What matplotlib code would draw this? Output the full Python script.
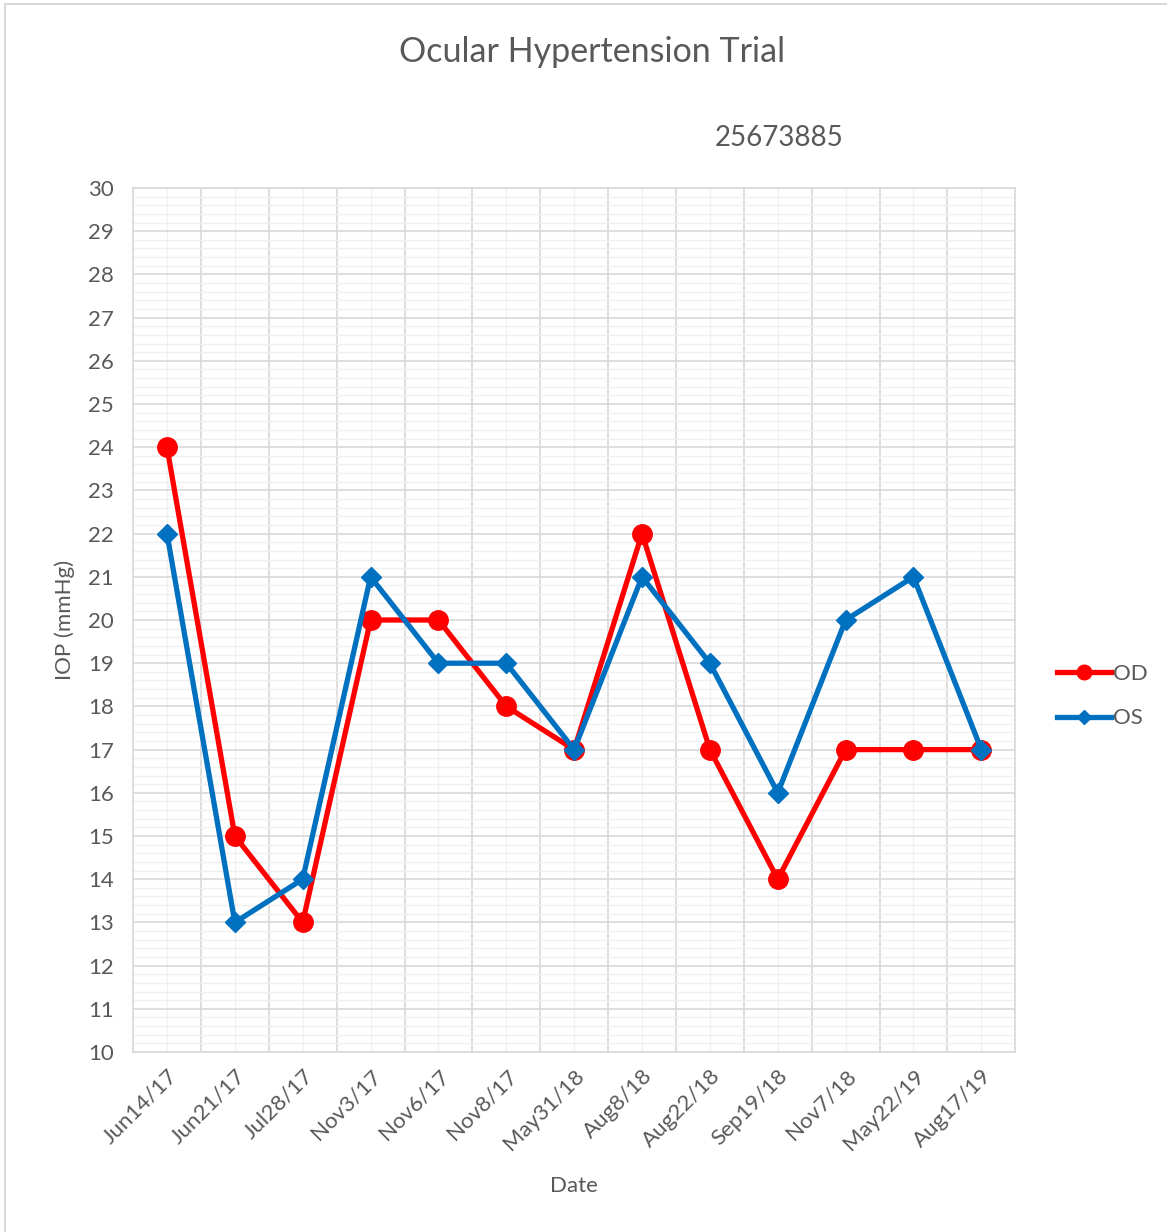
import matplotlib.pyplot as plt
from matplotlib.patches import Rectangle

# datos
fechas = ["Jun14/17", "Jun21/17", "Jul28/17", "Nov3/17", "Nov6/17", "Nov8/17",
          "May31/18", "Aug8/18", "Aug22/18", "Sep19/18", "Nov7/18", "May22/19", "Aug17/19"]
od = [24, 15, 13, 20, 20, 18, 17, 22, 17, 14, 17, 17, 17]
os_ = [22, 13, 14, 21, 19, 19, 17, 21, 19, 16, 20, 21, 17]

GRIS = "#595959"
plt.rcParams['font.family'] = ['Lato', 'DejaVu Sans']

fig = plt.figure(figsize=(11.67, 12.32), dpi=100)
ax = fig.add_axes([0.114, 0.1461, 0.756, 0.7013])

x = list(range(len(fechas)))
ax.plot(x, od, color="#FF0000", lw=3.8, marker="o", ms=14, label="OD", zorder=3)
ax.plot(x, os_, color="#0070C0", lw=3.8, marker="D", ms=10, label="OS", zorder=4)

ax.set_xlim(-0.5, len(fechas) - 0.5)
ax.set_ylim(10, 30)
ax.set_yticks(range(10, 31))
ax.set_yticks([10 + i * 0.2 for i in range(101)], minor=True)
ax.set_xticks(x)
ax.set_xticklabels(fechas, rotation=45, ha="right", rotation_mode="anchor")
ax.set_xticks([i - 0.5 for i in range(len(fechas) + 1)], minor=True)

ax.grid(which="major", axis="y", color="#d9d9d9", lw=1.2)
ax.grid(which="minor", axis="y", color="#f0f0f0", lw=1.0)
ax.grid(which="minor", axis="x", color="#d9d9d9", lw=1.2)
ax.grid(which="major", axis="x", color="#f0f0f0", lw=1.0)
ax.set_axisbelow(True)

for s in ax.spines.values():
    s.set_color("#d9d9d9")
    s.set_linewidth(1.2)

ax.tick_params(which="both", length=0, colors=GRIS, labelsize=16)
ax.tick_params(axis="x", pad=10)
ax.tick_params(axis="y", pad=14)

ax.set_ylabel("IOP (mmHg)", color=GRIS, fontsize=16, va="center")
ax.yaxis.set_label_coords(-0.077, 0.5)
ax.set_xlabel("Date", color=GRIS, fontsize=16, labelpad=16)

fig.text(0.507, 0.958, "Ocular Hypertension Trial", ha="center", va="center",
         color=GRIS, fontsize=24.5)
fig.text(0.668, 0.888, "25673885", ha="center", va="center", color=GRIS, fontsize=20)

fig.legend(loc="center left", bbox_to_anchor=(0.889, 0.435), frameon=False,
           fontsize=16, labelcolor=GRIS, handlelength=2.4, handletextpad=0.1,
           labelspacing=1.1, markerscale=0.75)

fig.patches.append(Rectangle((5 / 1167, -0.01), 1.1, 1 - 4 / 1232 + 0.01,
                             transform=fig.transFigure, fill=False,
                             edgecolor="#d9d9d9", lw=1.5))

fig.savefig("out.png", dpi=100)
